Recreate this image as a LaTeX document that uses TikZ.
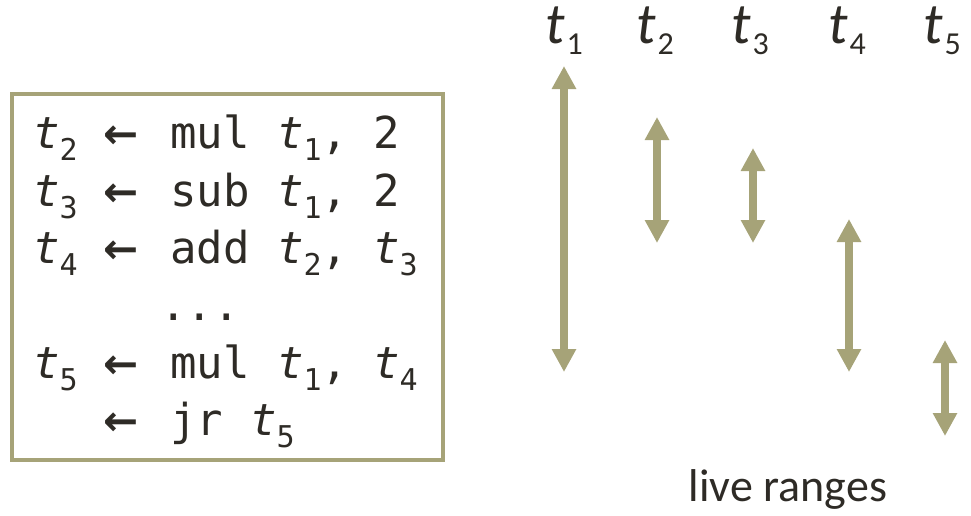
\documentclass[tikz,border=0pt]{standalone}
\usepackage{fontspec}
\setmonofont{DejaVu Sans Mono}
\newfontfamily\headfont{Carlito}
\newfontfamily\arrowfont{DejaVu Sans}
\usetikzlibrary{arrows.meta}

\definecolor{rangecol}{HTML}{A6A378}
\definecolor{inkcol}{HTML}{2E2B26}

% temporaries in the listing and in the header
\newcommand{\tv}[1]{\textit{t}\raisebox{-12pt}{\fontsize{30}{30}\selectfont #1}}
\newcommand{\thead}[1]{\textit{t}\hspace{2pt}\raisebox{-11pt}{\fontsize{32}{32}\selectfont #1}}
\newcommand{\cell}[2]{\makebox[#1pt][l]{#2}}
\newcommand{\assignarrow}{{\arrowfont\bfseries\fontsize{42}{42}\selectfont ←}}

\tikzset{
  codeline/.style = {anchor = base west, inner sep = 0pt, text = inkcol,
    font = \ttfamily\fontsize{44}{44}\selectfont},
  headline/.style = {anchor = base west, inner sep = 0pt, text = inkcol,
    font = \headfont\fontsize{58}{58}\selectfont},
  liverange/.style = {draw = rangecol, line width = 8pt,
    {Triangle[width=23pt,length=23pt]}-{Triangle[width=23pt,length=23pt]}}
}

\begin{document}
\begin{tikzpicture}[x=1pt, y=-1pt]
        \useasboundingbox (0,0) rectangle (971,515);
        % the code
        \node (code)[draw = rangecol, line width = 4pt, minimum width = 431pt,
        minimum height = 366pt, inner sep = 0pt] at (227.5,277) {};
        \node (r1)[codeline] at (33,148) {\cell{70}{\tv{2}}\cell{67}{\assignarrow}\cell{107}{mul}\cell{96}{\tv{1},}2};
        \node (r2)[codeline] at (33,206) {\cell{70}{\tv{3}}\cell{67}{\assignarrow}\cell{107}{sub}\cell{96}{\tv{1},}2};
        \node (r3)[codeline] at (33,263) {\cell{70}{\tv{4}}\cell{67}{\assignarrow}\cell{107}{add}\cell{96}{\tv{2},}\tv{3}};
        \node (r4)[codeline] at (160,320) {...};
        \node (r5)[codeline] at (33,378) {\cell{70}{\tv{5}}\cell{67}{\assignarrow}\cell{107}{mul}\cell{96}{\tv{1},}\tv{4}};
        \node (r6)[codeline] at (103,435) {\cell{67}{\assignarrow}\cell{80}{jr}\tv{5}};
        % the temporaries
        \node (h1)[headline] at (545,43) {\thead{1}};
        \node (h2)[headline] at (636,43) {\thead{2}};
        \node (h3)[headline] at (731,43) {\thead{3}};
        \node (h4)[headline] at (828,43) {\thead{4}};
        \node (h5)[headline] at (923,43) {\thead{5}};
        % their live ranges
        \foreach \i/\x/\ya/\yb in {1/564/66/372, 2/657/117/243, 3/753/148/243,
                                   4/849/219/372, 5/945/340/436} {
            \coordinate (top\i) at (\x,\ya);
            \coordinate (bot\i) at (\x,\yb);
            \path[liverange] (top\i) -- (bot\i);
        }
        \node (caption)[anchor = base, inner sep = 0pt, text = inkcol,
        font = \headfont\fontsize{46}{46}\selectfont] at (788,501) {live ranges};
    \end{tikzpicture}
\end{document}
